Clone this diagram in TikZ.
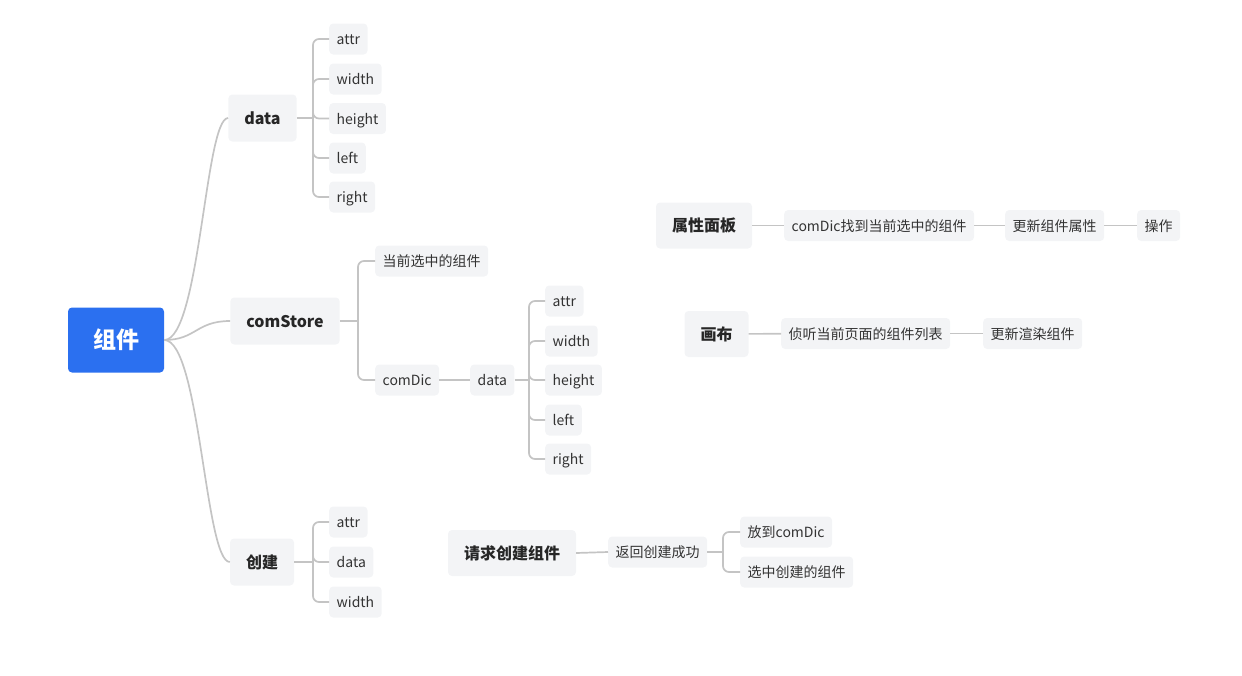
\documentclass[tikz,border=0pt]{standalone}
\usepackage{fontspec}
\setmainfont{Noto Sans CJK SC}
\usepackage{tikz}

\definecolor{boxfill}{HTML}{F3F4F6}
\definecolor{rootblue}{HTML}{2B70F0}
\definecolor{linegrey}{HTML}{C4C4C4}
\definecolor{inktext}{HTML}{333333}

\begin{document}
\begin{tikzpicture}[x=1pt, y=-1pt,
		root/.style={fill=rootblue, text=white, rounded corners=4pt, inner xsep=25pt,
			minimum height=65pt, font=\fontsize{23}{26}\selectfont\bfseries},
		topic/.style={fill=boxfill, text=black!85, rounded corners=4pt, inner xsep=16pt,
			minimum height=47pt, text height=14pt, text depth=2pt, font=\fontsize{16}{19}\selectfont\bfseries},
		leaf/.style={fill=boxfill, text=inktext, rounded corners=4pt, inner xsep=7.5pt,
			minimum height=31pt, text height=12pt, text depth=1pt, font=\fontsize{14}{16}\selectfont},
		link/.style={draw=linegrey, line width=1.7pt},
		elbow/.style={link, rounded corners=6pt}]
			\useasboundingbox (0,0) rectangle (1242,675);
			% main tree
			\node[root] (comp) at (116,340) {组件};
			\node[topic] (data) at (262.5,118) {data};
			\node[topic] (store) at (285,321) {comStore};
			\node[topic] (create) at (262,562) {创建};
			\draw[link] (comp.east) .. controls (200,340) and (205,118) .. (data.west);
			\draw[link] (comp.east) .. controls (196,340) and (196,321) .. (store.west);
			\draw[link] (comp.east) .. controls (200,340) and (205,562) .. (create.west);
			% data
			\draw[link] (data.east) -- (313,118);
			\foreach \k/\y [count=\n] in {attr/39, width/79, height/118.5, left/158, right/197}
			{
				\node[leaf, anchor=west] (d\n) at (329,\y) {\k};
				\draw[elbow] (313,118) |- (d\n.west);
			}
			% comStore
			\node[leaf, anchor=west] (current) at (375,261) {当前选中的组件};
			\node[leaf, anchor=west] (dic) at (375,380) {comDic};
			\node[leaf, anchor=west] (dicdata) at (470,380) {data};
			\draw[link] (store.east) -- (358,321);
			\draw[elbow] (358,321) |- (current.west);
			\draw[elbow] (358,321) |- (dic.west);
			\draw[link] (dic) -- (dicdata);
			\draw[link] (dicdata.east) -- (529,380);
			\foreach \k/\y [count=\n] in {attr/301, width/341, height/380, left/420, right/459}
			{
				\node[leaf, anchor=west] (s\n) at (545,\y) {\k};
				\draw[elbow] (529,380) |- (s\n.west);
			}
			% 创建
			\draw[link] (create.east) -- (313,562);
			\foreach \k/\y [count=\n] in {attr/522, data/562, width/602}
			{
				\node[leaf, anchor=west] (c\n) at (329,\y) {\k};
				\draw[elbow] (313,562) |- (c\n.west);
			}
			% request
			\node[topic, minimum height=46pt] (request) at (512,553) {请求创建组件};
			\node[leaf, anchor=west] (back) at (608,552) {返回创建成功};
			\node[leaf, anchor=west] (put) at (740,532) {放到comDic};
			\node[leaf, anchor=west] (select) at (740,572) {选中创建的组件};
			\draw[link] (request.east) -- (back.west);
			\draw[link] (back.east) -- (723,552);
			\draw[elbow] (723,552) |- (put.west);
			\draw[elbow] (723,552) |- (select.west);
			% panel
			\node[topic, minimum height=46pt] (panel) at (704,225.5) {属性面板};
			\node[leaf, anchor=west] (find) at (784,225.5) {comDic找到当前选中的组件};
			\node[leaf, anchor=west] (update) at (1005,225.5) {更新组件属性};
			\node[leaf, anchor=west] (act) at (1137,225.5) {操作};
			\draw[link] (panel) -- (find);
			\draw[link] (find) -- (update);
			\draw[link] (update) -- (act);
			% canvas
			\node[topic, minimum height=46pt] (canvas) at (716.5,334) {画布};
			\node[leaf, anchor=west] (listen) at (781,333.5) {侦听当前页面的组件列表};
			\node[leaf, anchor=west] (render) at (983,333.5) {更新渲染组件};
			\draw[link] (canvas) -- (listen);
			\draw[link] (listen) -- (render);
		\end{tikzpicture}
\end{document}
